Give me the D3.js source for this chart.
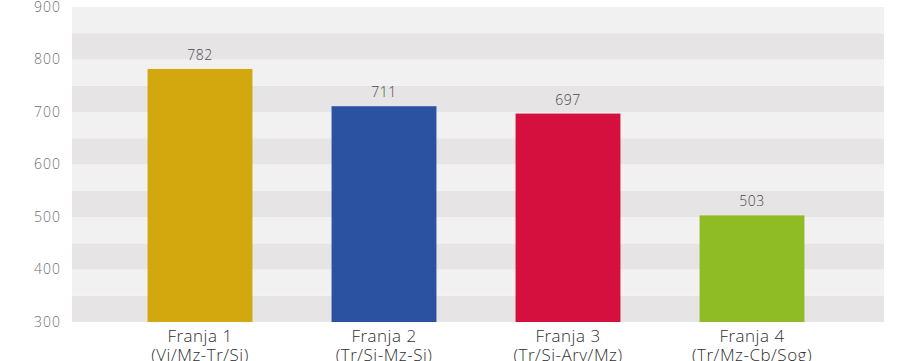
<!DOCTYPE html>
<html><head><meta charset="utf-8">
<script src="https://cdn.jsdelivr.net/npm/d3@7"></script>
<style>body{margin:0;background:#fff;}svg{display:block;}</style>
</head><body>
<svg id="chart" width="909" height="361"></svg>
<script>
const categories = ["Franja 1", "Franja 2", "Franja 3", "Franja 4"];
const subLabels = ["(Vi/Mz-Tr/Sj)", "(Tr/Si-Mz-Sj)", "(Tr/Si-Arv/Mz)", "(Tr/Mz-Cb/Sog)"];
const values = [782, 711, 697, 503];
const colors = ["#d3a70e", "#2a52a0", "#d5103e", "#8fbb25"];
const yTicks = [300, 400, 500, 600, 700, 800, 900];

const svg = d3.select("#chart");
const plotLeft = 72, plotRight = 884, plotTop = 7, plotBottom = 322;
const font = "'Open Sans', Lato, sans-serif";
const y = d3.scaleLinear().domain([300, 900]).range([plotBottom, plotTop]);
const x = d3.scaleBand().domain(categories).range([108, 844]).paddingInner(0.43).paddingOuter(0.215);

// alternating bands every 50
const bands = d3.range(300, 900, 50);
svg.append("g").selectAll("rect").data(bands).join("rect")
  .attr("x", plotLeft).attr("width", plotRight - plotLeft)
  .attr("y", d => y(d + 50)).attr("height", d => y(d) - y(d + 50))
  .attr("fill", d => ((d - 300) / 50) % 2 === 0 ? "#e6e4e5" : "#f2f1f2");

// y axis
const yAxis = d3.axisLeft(y).tickValues(yTicks).tickSize(0).tickPadding(0);
const ga = svg.append("g").attr("transform", "translate(61,0)").call(yAxis);
ga.select(".domain").remove();
ga.selectAll("text").attr("font-family", font).attr("font-weight", 300)
  .attr("font-size", 14).attr("letter-spacing", 1).attr("fill", "#6f6f6f");

// bars
svg.append("g").selectAll("rect").data(values).join("rect")
  .attr("x", (d, i) => x(categories[i])).attr("width", x.bandwidth())
  .attr("y", d => y(d)).attr("height", d => y(300) - y(d))
  .attr("fill", (d, i) => colors[i]);

// value labels
svg.append("g").selectAll("text").data(values).join("text")
  .attr("x", (d, i) => x(categories[i]) + x.bandwidth() / 2)
  .attr("y", d => y(d) - 9)
  .attr("text-anchor", "middle")
  .attr("font-family", font).attr("font-weight", 300).attr("font-size", 14).attr("letter-spacing", 0.5)
  .attr("fill", "#4a4a4a").text(d => d);

// category labels
const xAxis = d3.axisBottom(x).tickSize(0).tickPadding(0);
const gx = svg.append("g").attr("transform", `translate(0,${plotBottom})`).call(xAxis);
gx.select(".domain").remove();
gx.selectAll(".tick text").text(null).each(function(d, i) {
  const t = d3.select(this).attr("font-family", font).attr("font-weight", 300)
    .attr("font-size", 17).attr("letter-spacing", 0.5).attr("fill", "#2f2f2f").attr("dy", null).attr("y", 0);
  t.append("tspan").attr("x", 0).attr("y", 20).text(categories[i]);
  t.append("tspan").attr("x", 0).attr("y", 39).text(subLabels[i]);
});
</script>
</body></html>
